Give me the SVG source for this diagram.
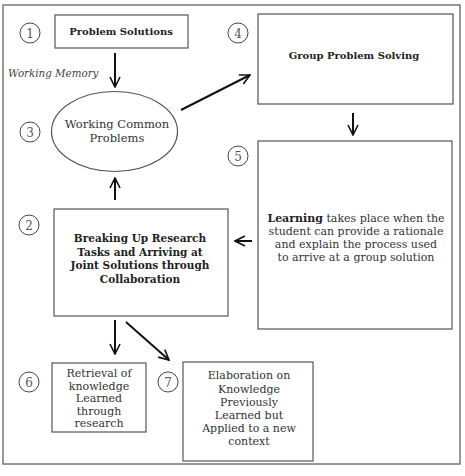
<svg xmlns="http://www.w3.org/2000/svg" width="465" height="476" viewBox="0 0 465 476">
<defs>
<style>
.box{fill:#fff;stroke:#555;stroke-width:1.2}
.frame{fill:#fff;stroke:#777;stroke-width:1.5}
.num{fill:#fff;stroke:#444;stroke-width:1}
.numt{font-family:"DejaVu Serif",serif;font-size:12px;fill:#555;text-anchor:middle}
.t{font-family:"DejaVu Serif",serif;font-size:11px;fill:#333;text-anchor:middle}
.e{font-size:11.5px}
.b{font-family:"DejaVu Serif",serif;font-size:10px;font-weight:bold;fill:#222;text-anchor:middle}
.b2{font-size:10.5px}
.lbl{font-family:"DejaVu Serif",serif;font-size:10.3px;font-style:italic;fill:#444}
.arr{stroke:#111;stroke-width:2;fill:none;marker-end:url(#ah)}
</style>
<marker id="ah" viewBox="0 0 12 12" refX="11" refY="6" markerWidth="6" markerHeight="6" orient="auto" markerUnits="strokeWidth">
<path d="M1,1 L11,6 L1,11" fill="none" stroke="#111" stroke-width="1.6"/>
</marker>
</defs>
<rect class="frame" x="3" y="5" width="457" height="459"/>

<g id="connectors">
<line class="arr" x1="115" y1="53" x2="115" y2="87"/>
<line class="arr" x1="115" y1="200" x2="115" y2="178"/>
<line class="arr" x1="181" y1="110" x2="250" y2="75"/>
<line class="arr" x1="353" y1="113" x2="353" y2="135"/>
<line class="arr" x1="252" y1="241" x2="235" y2="241"/>
<line class="arr" x1="115" y1="320" x2="115" y2="354"/>
<line class="arr" x1="126" y1="322" x2="169" y2="360"/>
</g>

<g id="n1">
<circle class="num" cx="30" cy="33" r="10"/><text class="numt" x="30" y="37.5">1</text>
<rect class="box" x="55" y="15" width="133" height="33"/>
<text class="b" x="121" y="35">Problem Solutions</text>
</g>
<g id="wm"><text class="lbl" x="8" y="77">Working Memory</text></g>
<g id="n3">
<circle class="num" cx="30" cy="132" r="10"/><text class="numt" x="30" y="136.5">3</text>
<ellipse class="box" cx="114.5" cy="131.5" rx="63" ry="40"/>
<text class="t e" x="117" y="128">Working Common</text>
<text class="t e" x="117" y="142">Problems</text>
</g>
<g id="n2">
<circle class="num" cx="29" cy="225" r="10"/><text class="numt" x="29" y="229.5">2</text>
<rect class="box" x="54" y="209" width="174" height="107"/>
<text class="b b2" x="140" y="242">Breaking Up Research</text>
<text class="b b2" x="140" y="255.5">Tasks and Arriving at</text>
<text class="b b2" x="140" y="269">Joint Solutions through</text>
<text class="b b2" x="140" y="282.5">Collaboration</text>
</g>
<g id="n4">
<circle class="num" cx="238" cy="33" r="10"/><text class="numt" x="238" y="37.5">4</text>
<rect class="box" x="258" y="14" width="195" height="90"/>
<text class="b" x="354" y="59">Group Problem Solving</text>
</g>
<g id="n5">
<circle class="num" cx="238" cy="156" r="10"/><text class="numt" x="238" y="160.5">5</text>
<rect class="box" x="258" y="141" width="194" height="188"/>
<text class="t" x="356" y="222"><tspan font-weight="bold" fill="#222">Learning</tspan> takes place when the</text>
<text class="t" x="356" y="235">student can provide a rationale</text>
<text class="t" x="356" y="248">and explain the process used</text>
<text class="t" x="356" y="261">to arrive at a group solution</text>
</g>
<g id="n6">
<circle class="num" cx="29" cy="382" r="10"/><text class="numt" x="29" y="386.5">6</text>
<rect class="box" x="52" y="363" width="94" height="69"/>
<text class="t" x="99" y="377">Retrieval of</text>
<text class="t" x="99" y="389.5">knowledge</text>
<text class="t" x="99" y="402">Learned</text>
<text class="t" x="99" y="414.5">through</text>
<text class="t" x="99" y="427">research</text>
</g>
<g id="n7">
<circle class="num" cx="168" cy="382" r="10"/><text class="numt" x="168" y="386.5">7</text>
<rect class="box" x="183" y="362" width="130" height="99"/>
<text class="t" x="249" y="379">Elaboration on</text>
<text class="t" x="249" y="392.5">Knowledge</text>
<text class="t" x="249" y="406">Previously</text>
<text class="t" x="249" y="419">Learned but</text>
<text class="t" x="249" y="432">Applied to a new</text>
<text class="t" x="249" y="445">context</text>
</g>
</svg>
